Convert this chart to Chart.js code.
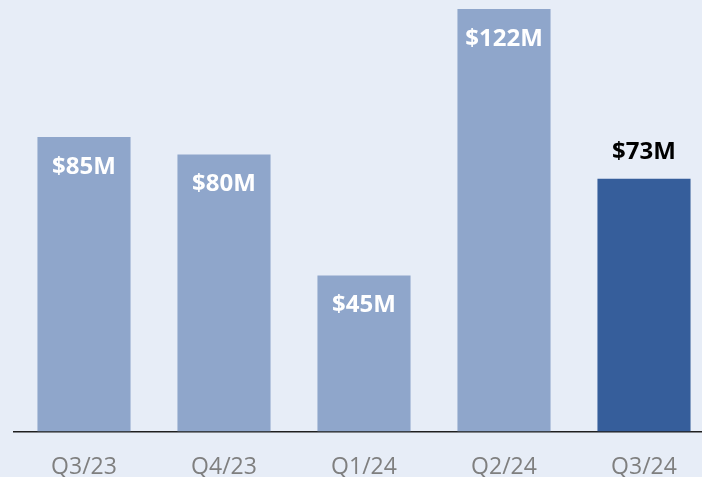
<!DOCTYPE html>
<html>
<head>
<meta charset="utf-8">
<script src="https://cdn.jsdelivr.net/npm/chart.js@4"></script>
<style>
  html, body { margin: 0; padding: 0; background: #e7edf7; overflow: hidden; }
  #wrap { position: relative; width: 714px; height: 503px; }
</style>
</head>
<body>
<div id="wrap"><canvas id="revenueChart"></canvas></div>
<script>
(() => {
  "use strict";

  const quarters = ["Q3/23", "Q4/23", "Q1/24", "Q2/24", "Q3/24"];
  const revenue = [85, 80, 45, 122, 73];
  const currentIndex = 4;

  const fontFamily = "'Open Sans', 'Noto Sans', sans-serif";
  const pastColor = "#8fa6cb";
  const currentColor = "#365e9b";

  // value labels: inside the past bars, above the current one
  const valueLabels = {
    id: "valueLabels",
    afterDatasetsDraw(chart) {
      const { ctx } = chart;
      const meta = chart.getDatasetMeta(0);
      ctx.save();
      ctx.font = "bold 24px " + fontFamily;
      ctx.textAlign = "center";
      ctx.textBaseline = "middle";
      meta.data.forEach((bar, i) => {
        const text = "$" + revenue[i] + "M";
        if (i === currentIndex) {
          ctx.fillStyle = "#000000";
          ctx.fillText(text, bar.x, bar.y - 26);
        } else {
          ctx.fillStyle = "#ffffff";
          ctx.fillText(text, bar.x, bar.y + 30);
        }
      });
      ctx.restore();
    },
  };

  new Chart(document.getElementById("revenueChart"), {
    type: "bar",
    data: {
      labels: quarters,
      datasets: [
        {
          data: revenue,
          backgroundColor: revenue.map((_, i) => (i === currentIndex ? currentColor : pastColor)),
          categoryPercentage: 1,
          barPercentage: 0.665,
        },
      ],
    },
    options: {
      responsive: true,
      maintainAspectRatio: false,
      animation: false,
      layout: { padding: { left: 14, right: 0, top: 0, bottom: 0 } },
      plugins: { legend: { display: false }, tooltip: { enabled: false } },
      scales: {
        y: { display: false, min: 0, max: 124.6 },
        x: {
          grid: { display: false, drawTicks: false },
          border: { display: true, color: "#1f1f1f", width: 1.5 },
          ticks: {
            color: "#7f7f7f",
            padding: 22,
            font: { family: fontFamily, size: 23 },
          },
        },
      },
    },
    plugins: [valueLabels],
  });
})();
</script>
</body>
</html>
